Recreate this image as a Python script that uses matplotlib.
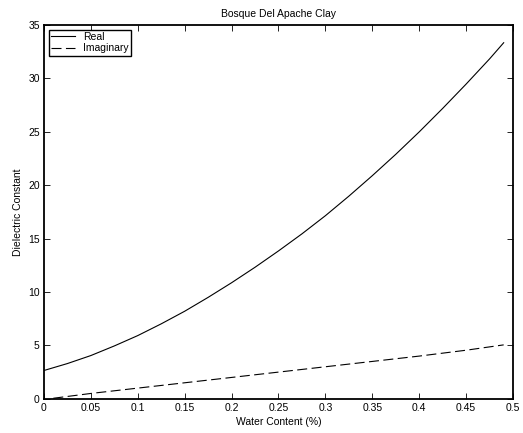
import matplotlib
matplotlib.use("Agg")
import matplotlib.pyplot as plt

water_real = [0.0, 0.025, 0.05, 0.075, 0.1, 0.125, 0.15, 0.175, 0.2, 0.225, 0.25,
              0.275, 0.3, 0.325, 0.35, 0.375, 0.4, 0.425, 0.45, 0.475, 0.49]
eps_real = [2.65, 3.3, 4.05, 4.95, 5.92, 7.02, 8.2, 9.5, 10.87, 12.32, 13.85,
            15.45, 17.15, 18.98, 20.9, 22.9, 25.0, 27.2, 29.48, 31.84, 33.35]

water_imag = [0.01, 0.05, 0.1, 0.15, 0.2, 0.25, 0.3, 0.35, 0.4, 0.45, 0.49]
eps_imag = [0.05, 0.5, 1.0, 1.5, 2.0, 2.5, 3.0, 3.5, 4.0, 4.55, 5.05]

x_ticks = [0, 0.05, 0.1, 0.15, 0.2, 0.25, 0.3, 0.35, 0.4, 0.45, 0.5]
x_ticklabels = ["0", "0.05", "0.1", "0.15", "0.2", "0.25", "0.3", "0.35", "0.4", "0.45", "0.5"]
y_ticks = [0, 5, 10, 15, 20, 25, 30, 35]

plt.rcParams["font.family"] = ["Liberation Sans", "DejaVu Sans"]
plt.rcParams["font.size"] = 7.5

fig = plt.figure(figsize=(5.23, 4.33), dpi=100)
ax = fig.add_axes([0.084, 0.079, 0.897, 0.863])

ax.plot(water_real, eps_real, color="black", linewidth=0.8, label="Real")
ax.plot(water_imag, eps_imag, color="black", linewidth=0.8, linestyle=(0, (9, 4)),
        label="Imaginary")

ax.set_xlim(0, 0.5)
ax.set_ylim(0, 35)
ax.set_xticks(x_ticks)
ax.set_xticklabels(x_ticklabels)
ax.set_yticks(y_ticks)
ax.tick_params(direction="in", top=True, right=True, length=4, width=0.6, pad=3,
               labelsize=7.5)
for spine in ax.spines.values():
    spine.set_linewidth(1.3)

ax.set_xlabel("Water Content (%)", labelpad=3)
ax.set_ylabel("Dielectric Constant", labelpad=3.5)
ax.set_title("Bosque Del Apache Clay", fontsize=7.5, pad=6)

leg = ax.legend(loc="upper left", fancybox=False, framealpha=1, edgecolor="black",
                borderaxespad=0.45, handlelength=2.3, handletextpad=0.8,
                borderpad=0.2, labelspacing=0.15)
leg.get_frame().set_linewidth(1.0)

fig.savefig("out.png", dpi=100)
